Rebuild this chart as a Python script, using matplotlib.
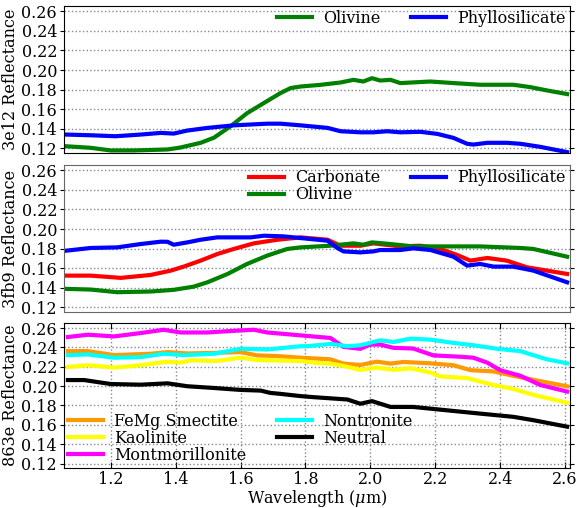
import numpy as np
import matplotlib
matplotlib.use("Agg")
import matplotlib.pyplot as plt

plt.rcParams['font.family'] = ['DejaVu Serif']
plt.rcParams['mathtext.fontset'] = 'dejavuserif'

# ---------- panel 1: 3e12 ----------
wl_3e12_oli = [1.062, 1.138, 1.20, 1.271, 1.375, 1.415, 1.477, 1.518, 1.569, 1.62, 1.672, 1.723,
               1.754, 1.785, 1.846, 1.908, 1.948, 1.978, 2.005, 2.03, 2.062, 2.092, 2.185, 2.256,
               2.338, 2.44, 2.492, 2.544, 2.606]
r_3e12_oli = [0.1223, 0.1207, 0.118, 0.118, 0.119, 0.121, 0.1258, 0.131, 0.1426, 0.156, 0.1664, 0.1765,
              0.1816, 0.1832, 0.1849, 0.1873, 0.190, 0.1883, 0.1917, 0.1893, 0.190, 0.1867, 0.1883, 0.1867,
              0.185, 0.185, 0.1826, 0.1792, 0.1755]
wl_3e12_phy = [1.062, 1.138, 1.215, 1.292, 1.354, 1.394, 1.436, 1.498, 1.579, 1.682, 1.723, 1.785,
               1.868, 1.908, 1.969, 2.009, 2.052, 2.092, 2.154, 2.206, 2.256, 2.298, 2.317, 2.36,
               2.42, 2.462, 2.523, 2.606]
r_3e12_phy = [0.1342, 0.1335, 0.1325, 0.1342, 0.1359, 0.1352, 0.1383, 0.141, 0.1436, 0.1453, 0.1453, 0.1436,
              0.141, 0.1376, 0.1365, 0.1365, 0.1376, 0.1365, 0.137, 0.1349, 0.1308, 0.1248, 0.124, 0.1258,
              0.1258, 0.1248, 0.1217, 0.1163]

# ---------- panel 2: 3fb9 ----------
wl_3fb9_carb = [1.062, 1.138, 1.231, 1.323, 1.385, 1.425, 1.477, 1.529, 1.579, 1.641, 1.713, 1.785,
                1.868, 1.908, 1.969, 2.009, 2.092, 2.154, 2.215, 2.267, 2.308, 2.36, 2.42, 2.482,
                2.544, 2.606]
r_3fb9_carb = [0.1525, 0.1525, 0.1502, 0.1532, 0.1576, 0.1617, 0.1678, 0.1746, 0.1797, 0.1854, 0.1891, 0.1915,
               0.1891, 0.183, 0.183, 0.1854, 0.1823, 0.183, 0.1797, 0.1736, 0.1678, 0.1705, 0.1678, 0.161,
               0.1576, 0.1542]
wl_3fb9_oli = [1.062, 1.138, 1.22, 1.323, 1.394, 1.456, 1.498, 1.56, 1.62, 1.682, 1.744, 1.785,
               1.877, 1.948, 1.978, 2.005, 2.062, 2.132, 2.237, 2.338, 2.462, 2.502, 2.606]
r_3fb9_oli = [0.139, 0.1383, 0.1356, 0.1363, 0.138, 0.1413, 0.1457, 0.1542, 0.1644, 0.1729, 0.1797, 0.1813,
              0.183, 0.1854, 0.184, 0.1864, 0.1847, 0.1823, 0.1823, 0.1823, 0.1807, 0.1797, 0.1718]
wl_3fb9_phy = [1.062, 1.138, 1.22, 1.292, 1.354, 1.375, 1.394, 1.436, 1.477, 1.528, 1.631, 1.672,
               1.733, 1.785, 1.868, 1.898, 1.917, 1.969, 2.009, 2.03, 2.092, 2.132, 2.185, 2.256,
               2.298, 2.338, 2.379, 2.44, 2.502, 2.606]
r_3fb9_phy = [0.1779, 0.1807, 0.1813, 0.1847, 0.1871, 0.187, 0.184, 0.1864, 0.1891, 0.1915, 0.1915, 0.1932,
              0.1925, 0.1908, 0.1881, 0.1807, 0.1772, 0.1762, 0.1772, 0.1786, 0.1786, 0.1803, 0.1786, 0.1718,
              0.1627, 0.1644, 0.1617, 0.1617, 0.1576, 0.1457]

# ---------- panel 3: 863e ----------
wl_863e_femg = [1.068, 1.13, 1.21, 1.323, 1.375, 1.436, 1.528, 1.6, 1.651, 1.713, 1.785, 1.825,
                1.877, 1.917, 1.969, 2.02, 2.062, 2.102, 2.185, 2.256, 2.308, 2.379, 2.44, 2.502,
                2.606]
r_863e_femg = [0.2362, 0.2362, 0.2321, 0.2335, 0.2352, 0.2338, 0.2345, 0.2352, 0.2318, 0.2311, 0.2294, 0.2287,
               0.2277, 0.2233, 0.2219, 0.2253, 0.2233, 0.225, 0.2236, 0.2216, 0.2165, 0.2152, 0.2107, 0.2066,
               0.1998]
wl_863e_kao = [1.068, 1.13, 1.21, 1.292, 1.375, 1.415, 1.446, 1.528, 1.6, 1.651, 1.785, 1.825,
               1.877, 1.917, 1.969, 2.02, 2.071, 2.123, 2.185, 2.215, 2.298, 2.379, 2.44, 2.502,
               2.606]
r_863e_kao = [0.2198, 0.2216, 0.2192, 0.2216, 0.2253, 0.2243, 0.2267, 0.226, 0.2294, 0.227, 0.226, 0.2243,
              0.2233, 0.2209, 0.2168, 0.2192, 0.2168, 0.2185, 0.2141, 0.2101, 0.2083, 0.2012, 0.1971, 0.191,
              0.1828]
wl_863e_mont = [1.068, 1.13, 1.21, 1.292, 1.363, 1.415, 1.498, 1.579, 1.641, 1.682, 1.785, 1.877,
                1.917, 1.969, 2.0, 2.03, 2.071, 2.132, 2.194, 2.277, 2.317, 2.36, 2.40, 2.462,
                2.523, 2.606]
r_863e_mont = [0.2508, 0.2532, 0.2514, 0.2549, 0.2583, 0.2555, 0.2555, 0.2572, 0.2583, 0.2555, 0.2525, 0.2498,
               0.2406, 0.2386, 0.243, 0.243, 0.2396, 0.2389, 0.2318, 0.2304, 0.2294, 0.2243, 0.2165, 0.2107,
               0.2012, 0.1944]
wl_863e_non = [1.068, 1.13, 1.21, 1.292, 1.363, 1.425, 1.518, 1.6, 1.682, 1.785, 1.806, 1.877,
               1.929, 1.969, 2.03, 2.071, 2.123, 2.185, 2.256, 2.317, 2.391, 2.462, 2.544, 2.606]
r_863e_non = [0.2321, 0.2328, 0.2294, 0.23, 0.2335, 0.2321, 0.2335, 0.2386, 0.2379, 0.2413, 0.2413, 0.2437,
              0.2413, 0.2423, 0.2474, 0.2457, 0.2491, 0.2481, 0.2447, 0.2423, 0.2386, 0.2362, 0.2277, 0.2236]
wl_863e_neu = [1.068, 1.118, 1.20, 1.292, 1.375, 1.436, 1.518, 1.6, 1.662, 1.692, 1.723, 1.785,
               1.825, 1.929, 1.969, 2.005, 2.062, 2.132, 2.236, 2.338, 2.44, 2.502, 2.606]
r_863e_neu = [0.2063, 0.2063, 0.2022, 0.2015, 0.2029, 0.1999, 0.1981, 0.1961, 0.1954, 0.193, 0.192, 0.1897,
              0.1886, 0.1862, 0.1818, 0.1845, 0.1785, 0.1785, 0.175, 0.1716, 0.1683, 0.1648, 0.1581]

yticks = [0.12, 0.14, 0.16, 0.18, 0.20, 0.22, 0.24, 0.26]
xticks = [1.2, 1.4, 1.6, 1.8, 2.0, 2.2, 2.4, 2.6]

fig = plt.figure(figsize=(5.79, 5.08), dpi=100)
L, W = 0.1105, 0.874
ax1 = fig.add_axes([L, 0.699, W, 0.289])
ax2 = fig.add_axes([L, 0.386, W, 0.289])
ax3 = fig.add_axes([L, 0.079, W, 0.285])

lw = 3
ax1.plot(wl_3e12_oli, r_3e12_oli, color='green', lw=lw, label='Olivine')
ax1.plot(wl_3e12_phy, r_3e12_phy, color='blue', lw=lw, label='Phyllosilicate')

ax2.plot(wl_3fb9_carb, r_3fb9_carb, color='red', lw=lw, label='Carbonate')
ax2.plot(wl_3fb9_oli, r_3fb9_oli, color='green', lw=lw, label='Olivine')
ax2.plot(wl_3fb9_phy, r_3fb9_phy, color='blue', lw=lw, label='Phyllosilicate')

ax3.plot(wl_863e_femg, r_863e_femg, color='#ff9900', lw=lw, label='FeMg Smectite')
ax3.plot(wl_863e_kao, r_863e_kao, color='yellow', lw=lw, label='Kaolinite')
ax3.plot(wl_863e_mont, r_863e_mont, color='magenta', lw=lw, label='Montmorillonite')
ax3.plot(wl_863e_non, r_863e_non, color='cyan', lw=lw, label='Nontronite')
ax3.plot(wl_863e_neu, r_863e_neu, color='black', lw=lw, label='Neutral')

fs = 11.5
for ax, name in [(ax1, '3e12'), (ax2, '3fb9'), (ax3, '863e')]:
    ax.set_xlim(1.056, 2.615)
    ax.set_ylim(0.1155, 0.2652)
    ax.set_yticks(yticks)
    ax.set_yticklabels(['%.2f' % v for v in yticks], fontsize=fs)
    ax.set_ylabel(name + ' Reflectance', fontsize=fs, labelpad=2)
    ax.tick_params(axis='y', which='both', right=True, direction='out', length=3, pad=2)
    ax.yaxis.grid(True, linestyle=':', color='#808a98', lw=1)

for ax in (ax1, ax2):
    ax.set_xticks([])

for sp in ax2.spines.values():
    sp.set_color('#666666')

ax3.set_xticks(xticks)
ax3.set_xticklabels(['%.1f' % v for v in xticks], fontsize=fs)
ax3.tick_params(axis='x', top=True, direction='in', length=4, pad=2)
ax3.xaxis.grid(True, linestyle=':', color='#808a98', lw=1)
ax3.set_xlabel(r'Wavelength ($\mu$m)', fontsize=fs, labelpad=0)

leg_kw = dict(frameon=False, fontsize=fs, ncol=2, borderaxespad=0.1, borderpad=0.15,
              labelspacing=0.0, handlelength=2.2, handletextpad=0.7, columnspacing=1.9)
ax1.legend(loc='upper right', **leg_kw)
ax2.legend(loc='upper right', **leg_kw)
ax3.legend(loc='lower left', **leg_kw)

fig.savefig('out.png', dpi=100)
